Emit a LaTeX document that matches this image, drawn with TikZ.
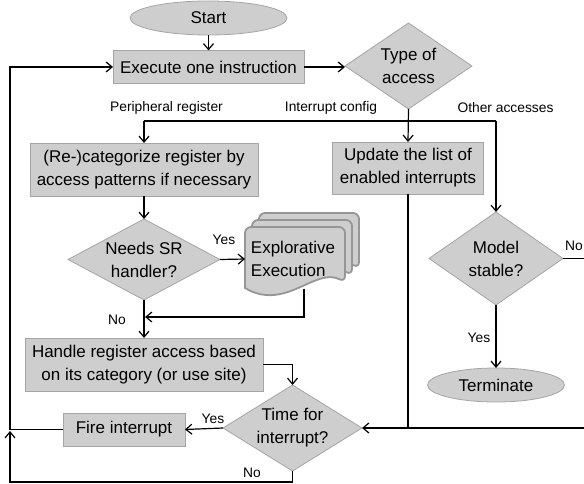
\documentclass[tikz,border=0pt]{standalone}
\usepackage{fontspec}
\setmainfont{Liberation Sans}
\usetikzlibrary{shapes.geometric,arrows.meta}
\definecolor{boxfill}{RGB}{206,206,206}
\definecolor{boxline}{RGB}{165,165,165}
\definecolor{docline}{RGB}{150,150,150}
\newcommand\mydoc[2]{\draw[docshape] (#1,#2+61) [rounded corners=6pt] -- (#1,#2) -- (#1+100,#2) -- (#1+100,#2+55) [sharp corners] .. controls (#1+70,#2+40) and (#1+40,#2+85) .. (#1,#2+61) -- cycle;}
\begin{document}
\begin{tikzpicture}[x=1pt,y=-1pt,
  every node/.style={font=\fontsize{17}{23}\selectfont, inner sep=0pt, outer sep=0pt},
  procbox/.style={draw=boxline, fill=boxfill, line width=0.8pt, align=center},
  decide/.style={diamond, draw=boxline, fill=boxfill, line width=0.8pt},
  termin/.style={ellipse, draw=boxline, fill=boxfill, line width=0.8pt},
  lbl/.style={font=\fontsize{13.8}{16}\selectfont},
  conn/.style={line width=1.2pt, black, line join=miter},
  arr/.style={conn, -{Straight Barb[length=6pt,width=10pt,line width=1.2pt]}},
  docshape/.style={draw=docline, fill=boxfill, line width=1.8pt},
]
\useasboundingbox (0,0) rectangle (584,484);

% nodes
\node[termin, minimum width=157pt, minimum height=34pt] (start) at (208.5,18) {Start};
\node[procbox, minimum width=191pt, minimum height=33pt] (exec) at (208.5,67) {Execute one instruction};
\node[decide, minimum width=127pt, minimum height=86pt] (type) at (408.5,66) {};
\node[align=center] (typet) at (type) {Type of\\access};
\node[procbox, minimum width=228pt, minimum height=53pt] (recat) at (144,169.5) {(Re-)categorize register by\\access patterns if necessary};
\node[procbox, minimum width=151pt, minimum height=52pt] (update) at (408,168) {Update the list of\\enabled interrupts};
\node[decide, minimum width=152pt, minimum height=81pt] (needs) at (144,259.5) {};
\node[align=center] (needst) at (needs) {Needs SR\\handler?};
\mydoc{259}{213}
\mydoc{252}{220}
\mydoc{245}{227}
\node[align=left] (explt) at (293,259) {Explorative\\Execution};
\coordinate (explw) at (245,259);
\coordinate (explb) at (304,289);
\node[decide, minimum width=134pt, minimum height=93pt] (model) at (496,258.5) {};
\node[align=center] (modelt) at (model) {Model\\stable?};
\node[procbox, minimum width=238pt, minimum height=53pt] (handle) at (144,364.5) {Handle register access based\\on its category (or use site)};
\node[decide, minimum width=139pt, minimum height=86pt] (time) at (292.5,428) {};
\node[align=center] (timet) at (time) {Time for\\interrupt?};
\node[procbox, minimum width=122pt, minimum height=33pt] (fire) at (124,429.5) {Fire interrupt};
\node[termin, minimum width=137pt, minimum height=34pt] (term) at (496,385) {Terminate};

% labels
\node[lbl] (l1) at (166.5,108) {Peripheral register};
\node[lbl] (l2) at (331,108) {Interrupt config};
\node[lbl] (l3) at (505.5,108) {Other accesses};
\node[lbl] (l4) at (224,240) {Yes};
\node[lbl] (l5) at (117,320) {No};
\node[lbl] (l6) at (574,246) {No};
\node[lbl] (l7) at (479,338) {Yes};
\node[lbl] (l8) at (213,419) {Yes};
\node[lbl] (l9) at (252,473) {No};

% coordinates
\coordinate (jl) at (144,121);
\coordinate (jr) at (496,121);
\coordinate (mergeA) at (145,317);
\coordinate (loopx) at (10,0);
\coordinate (nobot) at (292.5,482);
\coordinate (loopup) at (10,431);
\coordinate (rightx) at (592,0);

% connectors
\draw[arr] (start) -- (exec);
\draw[arr] (exec.east) -- (type.west |- exec.east);
\draw[arr] (type.south) -- (update.north);
\draw[conn] (jl) -- (jr);
\draw[arr] (jl) -- (recat.north);
\draw[arr] (jr) -- (model.north);
\draw[arr] (recat.south) -- (needs.north);
\draw[arr] (needs.east) -- (explw);
\draw[arr] (explb) |- (mergeA);
\draw[arr] (needs.south) -- (handle.north);
\draw[arr] (handle.east) -| (time.north);
\draw[arr] (time.west) -- (fire.east);
\draw[arr] (fire.west) -- (fire.west -| loopx) |- (exec.west);
\draw[arr] (time.south) |- (nobot -| loopup) -- (loopup);
\draw[conn] (update.south) -- (update.south |- time.east);
\draw[arr] (model.south) -- (term.north);
\draw[arr] (model.east) -| (rightx |- time.east) -- (time.east);
\end{tikzpicture}
\end{document}
